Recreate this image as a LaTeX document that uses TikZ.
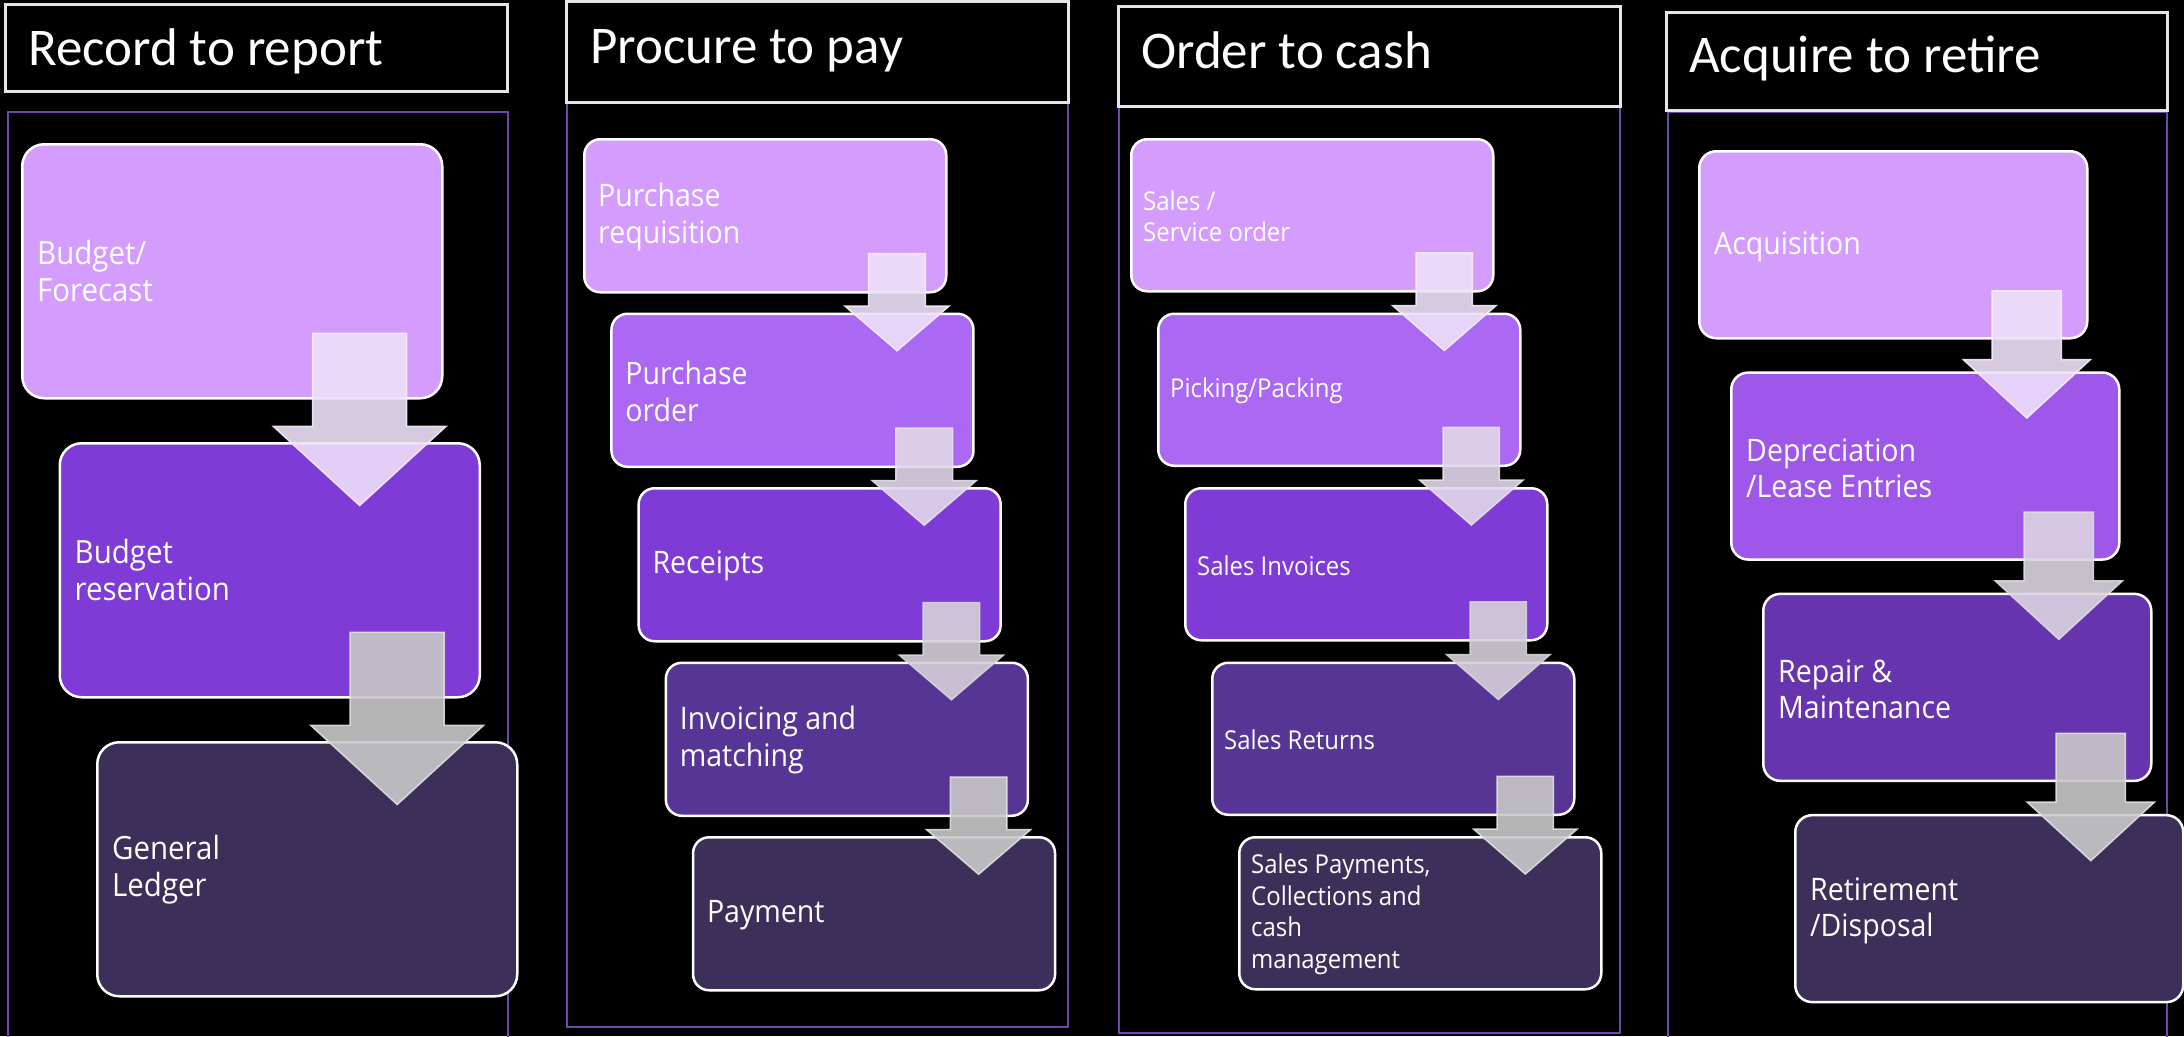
\documentclass[tikz,border=0pt]{standalone}
\usepackage{fontspec}
\setmainfont{Carlito}
\newfontfamily\boxfont{Open Sans}[FakeStretch=0.92]
\usetikzlibrary{calc}

\definecolor{tone1}{HTML}{D49CFC}
\definecolor{tone2}{HTML}{AB68F2}
\definecolor{tone3}{HTML}{7E3BD6}
\definecolor{tone4}{HTML}{573594}
\definecolor{tone5}{HTML}{3C2F5A}
\definecolor{toneB}{HTML}{9E57E8}
\definecolor{toneC}{HTML}{6635AE}
\definecolor{colborder}{HTML}{6B4AA8}
\definecolor{headgray}{HTML}{E6E6E6}
\definecolor{arrowA}{HTML}{EEE0FA}
\definecolor{arrowZ}{HTML}{C8C8C8}

\tikzset{
 headframe/.style={draw=headgray, line width=3pt},
 headtext/.style={anchor=base west, text=white, inner sep=0pt, font=\fontsize{53}{60}\selectfont},
 colframe/.style={draw=colborder, line width=2pt},
 stepbox/.style={draw=white, line width=2.5pt, anchor=north west, inner sep=0pt},
 steptext/.style={anchor=west, text=white, align=left, inner sep=0pt},
 blockarrow/.style={fill=#1, draw=white!45!#1, line width=1.5pt, opacity=0.9},
}

% block arrow from the foot of one box into the next one
\newcommand\flowarrow[4]{%
 \draw[blockarrow=#4]
  let \p1=(#1.south east), \p2=(#2.north),
      \n1={\x1-0.33*#3pt}, \n2={\y1+0.26*#3pt},
      \n3={\y2-0.25*#3pt}, \n4={\n3+0.46*(\n2-\n3)},
      \n5={0.185*#3pt}, \n6={0.34*#3pt}
  in (\n1-\n5,\n2) -- (\n1+\n5,\n2) -- (\n1+\n5,\n4) -- (\n1+\n6,\n4)
     -- (\n1,\n3) -- (\n1-\n6,\n4) -- (\n1-\n5,\n4) -- cycle;}

\begin{document}
\begin{tikzpicture}[x=1pt, y=1pt]
 \useasboundingbox (0,0) rectangle (2184,-1036);
 \fill[black] (0,0) rectangle (2184,-1036);
 \clip (0,0) rectangle (2184,-1036);

 % columns and headings
 \draw[colframe] (8,-112) rectangle (508,-1045);
 \draw[colframe] (567,-102) rectangle (1068,-1027);
 \draw[colframe] (1119,-107) rectangle (1620,-1033);
 \draw[colframe] (1668,-112) rectangle (2167,-1045);
 \draw[headframe] (5,-4) rectangle (507,-91);
 \draw[headframe] (566,-1) rectangle (1068,-102);
 \draw[headframe] (1118,-6) rectangle (1620,-106);
 \draw[headframe] (1666,-12) rectangle (2167,-110);
 \node[headtext] (r2rhead) at (28,-65) {Record to report};
 \node[headtext] (p2phead) at (590,-63) {Procure to pay};
 \node[headtext] (o2chead) at (1141,-68) {Order to cash};
 \node[headtext] (a2rhead) at (1689,-72) {Acquire to retire};

 % Record to report
 \foreach \txt/\tone [count=\i from 0] in
   {{Budget/\\Forecast}/tone1, {Budget\\reservation}/tone3, {General\\Ledger}/tone5}
 {
  \node[stepbox, fill=\tone, rounded corners=22pt, minimum width=420pt, minimum height=254pt]
   (r2r\i) at (21+37.5*\i, -143-299*\i) {};
  \node[steptext, font=\boxfont\fontsize{32}{37}\selectfont] (r2rt\i)
   at ([xshift=16pt]r2r\i.west) {\txt};
 }
 \foreach \a/\b/\c in {0/1/arrowA, 1/2/arrowZ}
  \flowarrow{r2r\a}{r2r\b}{254}{\c};

 % Procure to pay
 \foreach \txt/\tone [count=\i from 0] in
   {{Purchase\\requisition}/tone1, {Purchase\\order}/tone2, {Receipts}/tone3,
    {Invoicing and\\matching}/tone4, {Payment}/tone5}
 {
  \node[stepbox, fill=\tone, rounded corners=16pt, minimum width=362pt, minimum height=153pt]
   (p2p\i) at (583+27.2*\i, -138-174.5*\i) {};
  \node[steptext, font=\boxfont\fontsize{31}{37}\selectfont] (p2pt\i)
   at ([xshift=15pt, yshift=-1pt]p2p\i.west) {\txt};
 }
 \foreach \a/\b/\c in {0/1/arrowA, 1/2/arrowA!67!arrowZ, 2/3/arrowA!33!arrowZ, 3/4/arrowZ}
  \flowarrow{p2p\a}{p2p\b}{153}{\c};

 % Order to cash
 \foreach \txt/\tone [count=\i from 0] in
   {{Sales /\\Service order}/tone1, {Picking/Packing}/tone2, {Sales Invoices}/tone3,
    {Sales Returns}/tone4, {Sales Payments,\\Collections and\\cash\\management}/tone5}
 {
  \node[stepbox, fill=\tone, rounded corners=16pt, minimum width=362pt, minimum height=152pt]
   (o2c\i) at (1130+27*\i, -138-174.5*\i) {};
  \node[steptext, font=\boxfont\fontsize{26}{31.5}\selectfont] (o2ct\i)
   at ([xshift=13pt, yshift=-1pt]o2c\i.west) {\txt};
 }
 \foreach \a/\b/\c in {0/1/arrowA, 1/2/arrowA!67!arrowZ, 2/3/arrowA!33!arrowZ, 3/4/arrowZ}
  \flowarrow{o2c\a}{o2c\b}{152}{\c};

 % Acquire to retire
 \foreach \txt/\tone [count=\i from 0] in
   {{Acquisition}/tone1, {Depreciation\\/Lease Entries}/toneB, {Repair \&\\Maintenance}/toneC,
    {Retirement\\/Disposal}/tone5}
 {
  \node[stepbox, fill=\tone, rounded corners=17pt, minimum width=388pt, minimum height=187pt]
   (a2r\i) at (1698+32*\i, -150-221.3*\i) {};
  \node[steptext, font=\boxfont\fontsize{31}{36}\selectfont] (a2rt\i)
   at ([xshift=16pt, yshift=-2pt]a2r\i.west) {\txt};
 }
 \foreach \a/\b/\c in {0/1/arrowA, 1/2/arrowA!50!arrowZ, 2/3/arrowZ}
  \flowarrow{a2r\a}{a2r\b}{187}{\c};
\end{tikzpicture}
\end{document}
